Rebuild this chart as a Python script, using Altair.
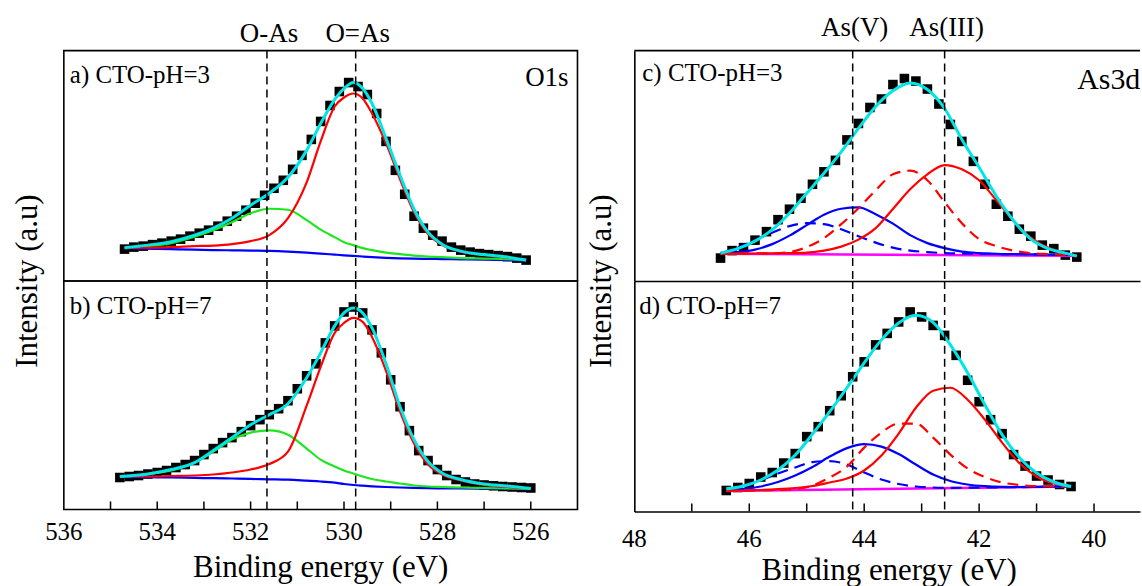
import altair as alt
import pandas as pd

FONT = "Liberation Serif"
RED, GREEN, BLUE, CYAN, MAGENTA = "#ff0000", "#1ee61e", "#0000ff", "#00e5e5", "#ff00ff"

# ---------------- O1s : measured points ----------------
a_ev = [534.7, 534.5, 534.3, 534.1, 533.9, 533.7, 533.5, 533.3, 533.1, 532.9, 532.7, 532.5,
        532.3, 532.1, 531.9, 531.7, 531.5, 531.3, 531.1, 530.9, 530.7, 530.5, 530.3, 530.1,
        529.9, 529.7, 529.5, 529.3, 529.1, 528.9, 528.7, 528.5, 528.3, 528.1, 527.9, 527.7,
        527.5, 527.3, 527.1, 526.9, 526.7, 526.5, 526.3, 526.1]
a_int = [32, 34, 35, 36.5, 38, 40, 42, 45, 48, 51, 55, 60, 65, 71, 78, 86, 93, 101, 112, 126,
         142, 160, 176, 190, 199, 195, 187, 168, 140, 111, 87, 65, 53, 46, 40, 34, 31, 29, 27.5,
         26.5, 25.5, 24.5, 23, 21]
b_ev = [534.8, 534.6, 534.4, 534.2, 534.0, 533.8, 533.6, 533.4, 533.2, 533.0, 532.8, 532.6,
        532.4, 532.2, 532.0, 531.8, 531.6, 531.4, 531.2, 531.0, 530.8, 530.6, 530.4, 530.2,
        530.0, 529.8, 529.6, 529.4, 529.2, 529.0, 528.8, 528.6, 528.4, 528.2, 528.0, 527.8,
        527.6, 527.4, 527.2, 527.0, 526.8, 526.6, 526.4, 526.2, 526.0]
b_int = [32, 33, 34, 35.5, 37, 39, 42, 45, 49, 55, 61, 67, 72, 78, 84, 90, 95, 101, 109, 121,
         134, 146, 167, 184, 198, 203, 197, 180, 157, 130, 103, 79, 59, 49, 40, 34, 30, 27.5,
         25.5, 24.5, 23.7, 23, 22.5, 22, 21.5]

# ---------------- O1s : fitted curves ----------------
a_fit_ev = [534.7, 534.2, 533.7, 533.2, 532.8, 532.4, 532.0, 531.6, 531.2, 530.8, 530.5, 530.2,
            530.0, 529.8, 529.6, 529.4, 529.1, 528.8, 528.5, 528.2, 527.9, 527.5, 527.0, 526.5, 526.1]
a_envelope = [33.5, 36, 39.5, 46, 53, 63, 76, 88, 104, 131, 158, 182, 193, 199, 193, 178, 143,
              106, 72, 49, 37, 30, 26.5, 24, 21]
a_o_as_double = [33.5, 33.5, 34, 35, 35.5, 37, 40, 46, 63, 99, 140, 175, 184, 188, 183, 168, 138,
                 102, 69, 47, 36, 29.5, 26, 23.5, 20.8]
a_o_as_single = [33, 35, 38, 44.5, 51, 59, 68, 72.5, 71.5, 61, 51.5, 44, 39, 36, 33, 31, 28.5,
                 27, 25.5, 24.5, 24, 23, 22.5, 22, 21]
a_background = [33, 32.5, 32, 31.5, 31, 30.8, 30.5, 30.2, 29.5, 28.5, 27.5, 26.5, 25.8, 25.2,
                24.6, 24, 23.3, 22.8, 22.4, 22.2, 22, 21.8, 21.5, 21, 20.5]

b_fit_ev = [534.8, 534.2, 533.7, 533.2, 532.8, 532.4, 532.0, 531.6, 531.2, 530.8, 530.5, 530.2,
            530.0, 529.8, 529.6, 529.4, 529.1, 528.8, 528.5, 528.2, 527.9, 527.5, 527.0, 526.5, 526.0]
b_envelope = [33, 35.5, 40, 47, 59, 72, 85, 95, 106, 132, 157, 184, 197, 202, 197, 182, 146, 103,
              70, 48, 36.5, 30, 25.5, 23.5, 21]
b_o_as_double = [33, 33, 33.5, 34, 35, 37, 40, 45.5, 58, 104, 143, 177, 187, 192, 188, 173, 139,
                 98, 66, 45, 35, 29, 24.5, 22.5, 21]
b_o_as_single = [33, 35.5, 39, 47, 58, 70, 77, 79.3, 75, 61, 50, 43, 39, 36, 33, 30.5, 28, 26,
                 24, 23, 22.5, 22, 21.5, 21, 20.5]
b_background = [32.7, 32.3, 32, 31.6, 31.3, 31, 30.6, 30.2, 29.8, 28.8, 28, 26.8, 25.5, 24.5,
                23.8, 23.2, 22.5, 22, 21.6, 21.3, 21.1, 21, 20.8, 20.6, 20.4]

# ---------------- As3d : measured points ----------------
c_ev = [46.5, 46.3, 46.1, 45.9, 45.7, 45.5, 45.3, 45.1, 44.9, 44.7, 44.5, 44.3, 44.1, 43.9,
        43.7, 43.5, 43.3, 43.1, 42.9, 42.7, 42.5, 42.3, 42.1, 41.9, 41.7, 41.5, 41.3, 41.1,
        40.9, 40.7, 40.5, 40.3]
c_int = [23, 30.5, 33.5, 41, 49.5, 61.5, 72, 83, 97, 109.5, 121, 141.5, 158, 174, 182.5, 197,
         203, 200.5, 192.5, 177.5, 157, 140, 120, 97, 77, 65, 52, 45, 36, 32.5, 26, 24]
d_ev = [46.4, 46.2, 46.0, 45.8, 45.6, 45.4, 45.2, 45.0, 44.8, 44.6, 44.4, 44.2, 44.0, 43.8,
        43.6, 43.4, 43.2, 43.0, 42.8, 42.6, 42.4, 42.2, 42.0, 41.8, 41.6, 41.4, 41.2, 41.0,
        40.8, 40.6, 40.4]
d_int = [21, 24, 28, 34.5, 39, 48.5, 58, 75, 85, 101, 116, 135, 150, 167, 178.5, 190, 200, 195,
         186.5, 176.5, 156.5, 131.5, 110, 92, 78, 57, 45.5, 35.5, 31.5, 27, 25]

# ---------------- As3d : fitted curves ----------------
c_fit_ev = [46.5, 46.2, 45.9, 45.6, 45.3, 45.0, 44.7, 44.4, 44.1, 43.8, 43.5, 43.2, 42.9, 42.6,
            42.3, 42.0, 41.7, 41.4, 41.1, 40.8, 40.5, 40.3]
c_envelope = [28, 32.5, 40, 51.5, 68, 88, 108, 129.5, 153, 175, 190.7, 198.5, 192, 173, 142,
              114, 85, 60.5, 42, 32.5, 28, 25]
c_asv_52 = [28, 29, 31.5, 37, 45.5, 56, 66.5, 72.5, 73.8, 67, 57.5, 46, 38, 33, 29.5, 28, 27.3,
            27, 26.8, 26.5, 26.2, 26]
c_asv_32 = [28, 33.5, 41, 48.5, 55, 58, 57, 52, 45, 38.5, 33.5, 30.5, 29, 28, 27.5, 27.3, 27.1,
            27, 26.8, 26.5, 26.2, 26]
c_asiii_52 = [27.5, 27.5, 27.6, 27.8, 28, 28.5, 30.5, 34.5, 41.5, 53, 72.3, 92, 107, 116.3, 112,
              101, 81, 60.5, 43.5, 33.5, 28, 25.5]
c_asiii_32 = [27.5, 27.5, 27.6, 27.8, 29, 34, 43, 57, 73, 91, 107, 110.7, 101, 79, 58, 42, 35,
              30.5, 28, 27, 26.3, 26]
c_base_ev = [46.5, 40.3]
c_base = [27.3, 25.3]

d_fit_ev = [46.4, 46.1, 45.8, 45.5, 45.2, 44.9, 44.6, 44.3, 44.0, 43.7, 43.4, 43.1, 42.8, 42.5,
            42.2, 41.9, 41.6, 41.3, 41.0, 40.7, 40.4]
d_envelope = [22.7, 25.5, 31.5, 41.5, 56.5, 77.5, 100, 124, 149, 172, 189, 196.7, 189.5, 167,
              139, 107, 77, 54, 38.5, 29.5, 25]
d_asv_52 = [21, 22.5, 25, 29.5, 36, 44.5, 55, 63.5, 67.5, 65, 57.5, 47, 37, 30.5, 27, 25.3,
            24.6, 24.5, 24.6, 24.8, 25]
d_asv_32 = [21, 26, 31.5, 38, 44, 49.5, 50.5, 47, 39, 32, 27.5, 25, 24, 23.6, 23.8, 24, 24.2,
            24.4, 24.6, 24.8, 25]
d_asiii_52 = [20.8, 21, 21.5, 22.3, 23.5, 25.5, 29, 33, 41, 56, 78, 104, 121, 124, 112, 92, 69,
              48.5, 35, 28, 25]
d_asiii_32 = [20.6, 20.9, 21.2, 21.6, 22.5, 26, 34, 45, 64, 79, 88, 88, 74, 57, 43, 34.5, 29,
              26.5, 25.3, 25.1, 25]
d_base_ev = [46.4, 40.4]
d_base = [20.5, 25]

# ---------------- labels / ticks ----------------
o1s_line_ev = [531.65, 529.75]
o1s_line_names = ["O-As", "O=As"]
as_line_ev = [44.2, 42.6]
as_line_names = ["As(V)", "As(III)"]
o1s_tick_labels = [536, 534, 532, 530, 528, 526]
o1s_ticks = [535, 534, 533, 532, 531, 530, 529, 528, 527, 526]
as_tick_labels = [48, 46, 44, 42, 40]
as_ticks = [47, 46, 45, 44, 43, 42, 41, 40]
panel_titles = ["a) CTO-pH=3", "b) CTO-pH=7", "c) CTO-pH=3", "d) CTO-pH=7"]
region_names = ["O1s", "As3d"]
x_title = "Binding energy (eV)"
y_title = "Intensity (a.u)"

LW, RW = 515, 507
TOPH, BLH, BRH = 231, 229, 231


def text_layer(t, x, y, size, align="left", baseline="alphabetic", angle=0):
    kw = dict(font=FONT, fontSize=size, align=align, baseline=baseline, color="black")
    if angle:
        kw["angle"] = angle
    return alt.Chart(pd.DataFrame({"t": [t]})).mark_text(**kw).encode(
        x=alt.value(x), y=alt.value(y), text="t:N")


def panel(xdom, width, height, xaxis, yaxis, pts, curves, lines_ev, extra_layers,
          top_names=None, top_y=None, ticks=None, tick_labels=None, tick_y=None):
    X = alt.X("ev:Q", scale=alt.Scale(domain=xdom, reverse=True, nice=False, zero=False), axis=xaxis)
    Y = alt.Y("I:Q", scale=alt.Scale(domain=[0, height], nice=False, zero=False), axis=yaxis)
    layers = [alt.Chart(pd.DataFrame({"ev": pts[0], "I": pts[1]})).mark_square(
        size=92, color="black", opacity=1).encode(x=X, y=Y)]
    for ev, vals, color, sw, dash in curves:
        kw = dict(color=color, strokeWidth=sw, interpolate="monotone")
        if dash:
            kw["strokeDash"] = dash
        layers.append(alt.Chart(pd.DataFrame({"ev": ev, "I": vals})).mark_line(**kw).encode(
            x=X, y=Y, order=alt.Order("ev:Q", sort="descending")))
    layers.append(alt.Chart(pd.DataFrame({"ev": lines_ev})).mark_rule(
        color="black", strokeWidth=1.5, strokeDash=[8, 5]).encode(x=X))
    if top_names is not None:
        layers.append(alt.Chart(pd.DataFrame({"ev": lines_ev, "t": top_names})).mark_text(
            font=FONT, fontSize=27, align="center", baseline="alphabetic", dx=2, color="black"
        ).encode(x=X, y=alt.value(top_y), text="t:N"))
    if ticks is not None:
        layers.append(alt.Chart(pd.DataFrame({"ev": ticks})).mark_rule(
            color="black", strokeWidth=1.5).encode(x=X, y=alt.value(height), y2=alt.value(height - 8)))
        layers.append(alt.Chart(pd.DataFrame({"ev": tick_labels})).mark_text(
            font=FONT, fontSize=25, align="center", baseline="alphabetic", color="black"
        ).encode(x=X, y=alt.value(tick_y), text=alt.Text("ev:Q", format="d")))
    layers.extend(extra_layers)
    return alt.layer(*layers)


frame_axis = alt.Axis(domain=True, domainColor="black", domainWidth=1.6, labels=False,
                      ticks=False, grid=False, title=None)
box_view = alt.ViewBackground(stroke="black", strokeWidth=1.6)
open_view = alt.ViewBackground(stroke="transparent")

anchor_a = alt.Chart(pd.DataFrame({"k": [0]})).mark_point(size=1, opacity=0).encode(
    x=alt.value(-62), y=alt.value(-48))
top_rule_c = alt.Chart(pd.DataFrame({"k": [0]})).mark_rule(color="black", strokeWidth=1.6).encode(
    x=alt.value(0), x2=alt.value(RW), y=alt.value(0))

pa = panel([525, 536], LW, TOPH, None, None, (a_ev, a_int),
           [(a_fit_ev, a_background, BLUE, 2.2, None),
            (a_fit_ev, a_o_as_single, GREEN, 2.2, None),
            (a_fit_ev, a_o_as_double, RED, 2.2, None),
            (a_fit_ev, a_envelope, CYAN, 3, None)],
           o1s_line_ev,
           [text_layer(panel_titles[0], 6, 32, 25),
            text_layer(region_names[0], LW - 9, 35, 27, align="right"),
            text_layer(y_title, -36, TOPH, 31, align="center", baseline="middle", angle=270),
            anchor_a],
           top_names=o1s_line_names, top_y=-8.5).properties(width=LW, height=TOPH, view=box_view)

pb = panel([525, 536], LW, BLH, None, None, (b_ev, b_int),
           [(b_fit_ev, b_background, BLUE, 2.2, None),
            (b_fit_ev, b_o_as_single, GREEN, 2.2, None),
            (b_fit_ev, b_o_as_double, RED, 2.2, None),
            (b_fit_ev, b_envelope, CYAN, 3, None)],
           o1s_line_ev,
           [text_layer(panel_titles[1], 6, 33, 25),
            text_layer(x_title, LW / 2, 297, 31, align="center")],
           ticks=o1s_ticks, tick_labels=o1s_tick_labels, tick_y=BLH + 31
           ).properties(width=LW, height=BLH, view=box_view)

pc = panel([39.2, 48], RW, TOPH, frame_axis, frame_axis, (c_ev, c_int),
           [(c_base_ev, c_base, MAGENTA, 2.5, None),
            (c_fit_ev, c_asv_32, BLUE, 2.2, [11, 7]),
            (c_fit_ev, c_asv_52, BLUE, 2.2, None),
            (c_fit_ev, c_asiii_32, RED, 2.2, [11, 7]),
            (c_fit_ev, c_asiii_52, RED, 2.2, None),
            (c_fit_ev, c_envelope, CYAN, 3, None)],
           as_line_ev,
           [text_layer(panel_titles[2], 8, 30, 25),
            text_layer(region_names[1], 444, 38, 30),
            text_layer(y_title, -32, TOPH, 31, align="center", baseline="middle", angle=270),
            top_rule_c],
           top_names=as_line_names, top_y=-15).properties(width=RW, height=TOPH, view=open_view)

pd_ = panel([39.2, 48], RW, BRH, frame_axis, frame_axis, (d_ev, d_int),
            [(d_base_ev, d_base, MAGENTA, 2.5, None),
             (d_fit_ev, d_asv_32, BLUE, 2.2, [11, 7]),
             (d_fit_ev, d_asv_52, BLUE, 2.2, None),
             (d_fit_ev, d_asiii_32, RED, 2.2, [11, 7]),
             (d_fit_ev, d_asiii_52, RED, 2.2, None),
             (d_fit_ev, d_envelope, CYAN, 3, None)],
            as_line_ev,
            [text_layer(panel_titles[3], 5, 33, 25),
             text_layer(x_title, RW / 2 + 2, 300, 31, align="center")],
            ticks=as_ticks, tick_labels=as_tick_labels, tick_y=BRH + 36
            ).properties(width=RW, height=BRH, view=open_view)

chart = alt.concat(pa, pc, pb, pd_, columns=2, spacing={"row": 0, "column": 57},
                   bounds="flush").properties(padding=0).configure_axis(grid=False)

chart.save("out.html", embed_options={"renderer": "svg", "actions": False})
